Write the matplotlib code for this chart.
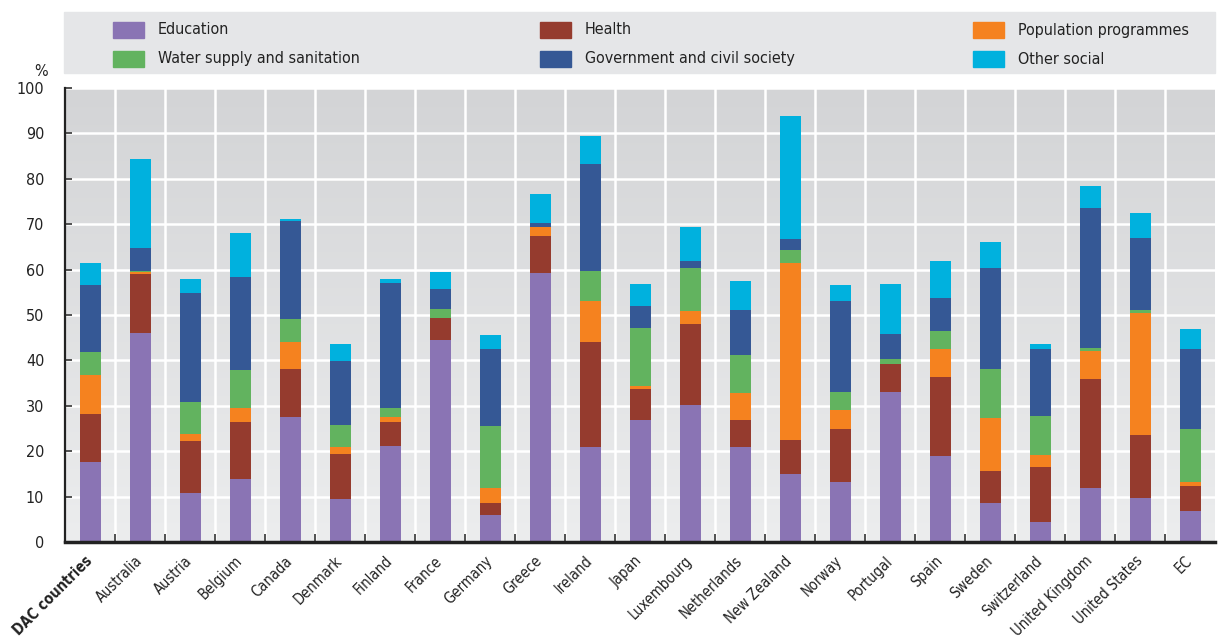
import numpy as np
import matplotlib
matplotlib.use("Agg")
import matplotlib.pyplot as plt
from matplotlib.patches import Rectangle

plt.rcParams['font.family'] = ['DejaVu Sans']
plt.rcParams['font.stretch'] = 'condensed'

countries = ["DAC countries", "Australia", "Austria", "Belgium", "Canada", "Denmark",
             "Finland", "France", "Germany", "Greece", "Ireland", "Japan", "Luxembourg",
             "Netherlands", "New Zealand", "Norway", "Portugal", "Spain", "Sweden",
             "Switzerland", "United Kingdom", "United States", "EC"]

# cumulative tops, per sector (in stacking order)
edu_top = [17.6, 46.0, 10.7, 13.8, 27.5, 9.4, 21.1, 44.5, 5.9, 59.2, 20.9, 26.8, 30.1,
           20.9, 14.9, 13.2, 33.0, 18.9, 8.7, 4.3, 11.8, 9.8, 6.8]
health_top = [28.1, 59.0, 22.2, 26.4, 38.1, 19.3, 26.4, 49.3, 8.7, 67.4, 44.0, 33.7, 48.0,
              26.8, 22.4, 24.8, 39.2, 36.3, 15.6, 16.5, 35.9, 23.5, 12.3]
pop_top = [36.7, 59.5, 23.8, 29.5, 44.1, 20.9, 27.5, 49.3, 12.0, 69.4, 53.0, 34.4, 50.8,
           32.8, 61.4, 29.0, 39.2, 42.5, 27.3, 19.1, 42.0, 50.4, 13.2]
water_top = [41.8, 59.7, 30.8, 37.8, 49.1, 25.7, 29.5, 51.3, 25.5, 69.4, 59.7, 47.1, 60.3,
             41.1, 64.3, 33.0, 40.3, 46.4, 38.1, 27.7, 42.7, 51.1, 24.8]
gov_top = [56.6, 64.7, 54.8, 58.3, 70.7, 39.8, 57.0, 55.7, 42.5, 70.2, 83.2, 51.9, 61.9,
           51.1, 66.7, 53.0, 45.8, 53.7, 60.3, 42.5, 73.5, 66.9, 42.5]
other_top = [61.4, 84.3, 57.9, 68.0, 71.1, 43.6, 57.9, 59.4, 45.6, 76.6, 89.4, 56.8, 69.4,
             57.5, 93.8, 56.6, 56.8, 61.9, 66.1, 43.6, 78.4, 72.4, 46.9]

sectors = ["Education", "Health", "Population programmes",
           "Water supply and sanitation", "Government and civil society", "Other social"]
colors = ["#8a74b4", "#953b2e", "#f5821f", "#62b35f", "#355895", "#00b1de"]
tops = [edu_top, health_top, pop_top, water_top, gov_top, other_top]

fig = plt.figure(figsize=(12.29, 6.38), dpi=100)
ax = fig.add_axes([65 / 1229, 1 - 542 / 638, 1150 / 1229, 454 / 638])

x = np.arange(len(countries))
ax.set_xlim(-0.5, len(countries) - 0.5)
ax.set_ylim(0, 100)

# gradient background
grad = np.linspace(0, 1, 256).reshape(-1, 1)
cmap = matplotlib.colors.LinearSegmentedColormap.from_list("bg", ["#ecedee", "#d3d4d6"])
ax.imshow(grad, extent=[-0.5, len(countries) - 0.5, 0, 100], origin="lower",
          aspect="auto", cmap=cmap, zorder=0)

for v in np.arange(10, 101, 10):
    ax.axhline(v, color="white", lw=1.8, zorder=1)
for xv in x[:-1] + 0.5:
    ax.axvline(xv, color="white", lw=1.8, zorder=1)

prev = np.zeros(len(countries))
for name, col, t in zip(sectors, colors, tops):
    t = np.array(t)
    ax.bar(x, t - prev, bottom=prev, width=0.42, color=col, zorder=2, linewidth=0)
    prev = t

for s in ["top", "right"]:
    ax.spines[s].set_visible(False)
ax.spines["left"].set_linewidth(1.6)
ax.spines["bottom"].set_linewidth(2.5)
ax.spines["left"].set_color("#222222")
ax.spines["bottom"].set_color("#222222")
ax.spines["left"].set_zorder(3)
ax.spines["bottom"].set_zorder(3)

ax.set_yticks(np.arange(0, 101, 10))
ax.tick_params(axis="y", direction="in", length=5, width=1.2, color="#333333",
               labelsize=11.5, pad=15, labelcolor="#222222")
ax.set_xticks(x[:-1] + 0.5, minor=False)
ax.set_xticklabels([])
ax.tick_params(axis="x", direction="in", length=6, width=1.2, color="#333333")
ax.set_xticks(x, minor=True)
ax.set_xticklabels(countries, minor=True, rotation=45, ha="right", va="center",
                   rotation_mode="anchor", fontsize=10.5, color="#222222")
ax.tick_params(axis="x", which="minor", length=0, pad=12)
ax.get_xticklabels(minor=True)[0].set_fontweight("bold")

fig.text(48 / 1229, 1 - 72 / 638, "%", ha="right", va="center", fontsize=11.5, color="#222222")

# legend box
fig.add_artist(Rectangle((64 / 1229, 1 - 73 / 638), 1151 / 1229, 61 / 638,
                         transform=fig.transFigure, color="#e5e6e8", zorder=0))
col_x = [113, 540, 973]
row_y = [30, 59]
order = [(0, 0), (1, 0), (2, 0), (0, 1), (1, 1), (2, 1)]
for (ci, ri), name, col in zip(order, sectors, colors):
    px = col_x[ci]
    py = row_y[ri]
    fig.add_artist(Rectangle((px / 1229, 1 - (py + 8) / 638), 31 / 1229, 16 / 638,
                             transform=fig.transFigure, color=col, zorder=1))
    fig.text((px + 45) / 1229, 1 - py / 638, name, ha="left", va="center",
             fontsize=11.5, color="#222222")

fig.savefig("out.png", dpi=100)
